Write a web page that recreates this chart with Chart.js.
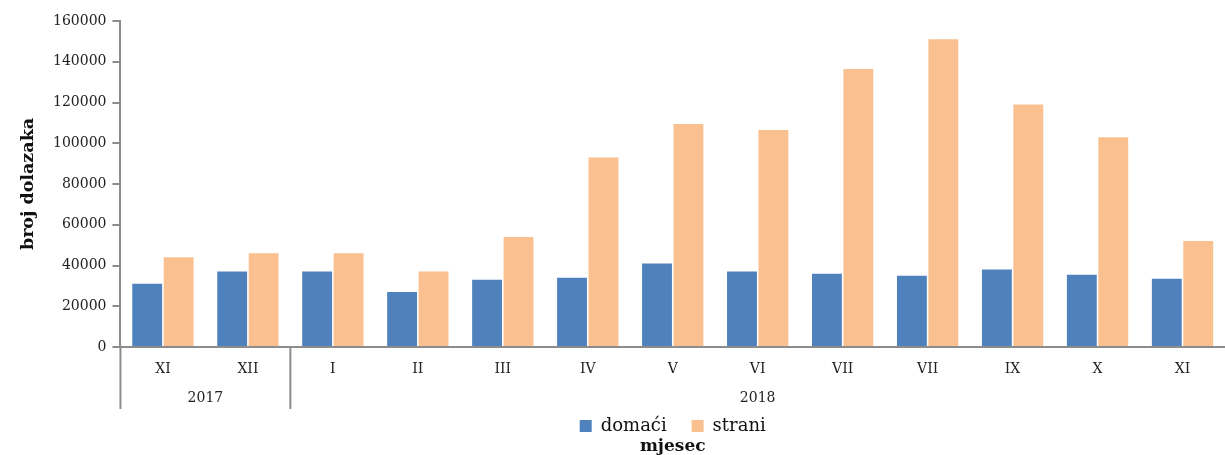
<!DOCTYPE html>
<html>
<head>
<meta charset="utf-8">
<script src="https://cdn.jsdelivr.net/npm/chart.js@4"></script>
<style>
  html, body { margin: 0; padding: 0; background: #fff; }
  #wrap { width: 1225px; height: 455px; }
</style>
</head>
<body>
<div id="wrap"><canvas id="dolasci"></canvas></div>
<script>
const months = ["XI", "XII", "I", "II", "III", "IV", "V", "VI", "VII", "VII", "IX", "X", "XI"];
const yearLabels = ["2017", "2018"];
const yearSizes = [2, 11];
const domaci = [31000, 37000, 37000, 27000, 33000, 34000, 41000, 37000, 36000, 35000, 38000, 35500, 33500];
const strani = [44000, 46000, 46000, 37000, 54000, 93000, 109500, 106500, 136500, 151000, 119000, 103000, 52000];

const serif = "'DejaVu Serif', 'Liberation Serif', serif";
const axisGray = "#8c8c8c";

// year row under the month labels, with separators
const yearGroups = {
  id: "yearGroups",
  afterDraw(chart) {
    const x = chart.scales.x;
    const ctx = chart.ctx;
    const w = x.getPixelForValue(1) - x.getPixelForValue(0);
    const top = x.top;
    const bottom = x.bottom - 6;
    ctx.save();
    ctx.strokeStyle = axisGray;
    ctx.lineWidth = 2;
    ctx.fillStyle = "#222";
    ctx.font = "14px " + serif;
    ctx.textAlign = "center";
    ctx.textBaseline = "middle";
    let start = 0;
    yearLabels.forEach((yr, i) => {
      const end = start + yearSizes[i] - 1;
      const left = x.getPixelForValue(start) - w / 2;
      ctx.beginPath();
      ctx.moveTo(left, top);
      ctx.lineTo(left, bottom);
      ctx.stroke();
      const mid = (x.getPixelForValue(start) + x.getPixelForValue(end)) / 2;
      ctx.fillText(yr, mid, bottom - 11);
      start = end + 1;
    });
    ctx.restore();
  }
};

new Chart(document.getElementById("dolasci"), {
  type: "bar",
  data: {
    labels: months,
    datasets: [
      {
        label: "domaći",
        data: domaci,
        backgroundColor: "#4F81BD",
        categoryPercentage: 0.74,
        barPercentage: 0.95,
      },
      {
        label: "strani",
        data: strani,
        backgroundColor: "#FAC090",
        categoryPercentage: 0.74,
        barPercentage: 0.95,
      },
    ],
  },
  options: {
    responsive: true,
    maintainAspectRatio: false,
    animation: false,
    layout: { padding: { top: 21, right: 0, left: 14, bottom: 0 } },
    plugins: {
      legend: {
        display: true,
        position: "bottom",
        fullSize: false,
        labels: {
          font: { family: serif, size: 18, lineHeight: 1 },
          color: "#111",
          boxWidth: 12,
          boxHeight: 12,
          padding: 2,
          generateLabels(chart) {
            const items = Chart.defaults.plugins.legend.labels.generateLabels(chart);
            items.slice(0, -1).forEach((it) => { it.text = it.text + "    "; });
            return items;
          },
        },
      },
      title: {
        display: true,
        position: "bottom",
        fullSize: false,
        text: "mjesec",
        font: { family: serif, size: 17, weight: "bold", lineHeight: 1 },
        color: "#111",
        padding: { top: -7, bottom: 0 },
      },
      tooltip: { enabled: false },
    },
    scales: {
      y: {
        min: 0,
        max: 160000,
        ticks: {
          stepSize: 20000,
          color: "#222",
          font: { family: serif, size: 14 },
          padding: 6,
          callback: (v) => String(v),
        },
        grid: {
          drawOnChartArea: false,
          drawTicks: true,
          tickLength: 8,
          color: axisGray,
          lineWidth: 2,
        },
        border: { color: axisGray, width: 2 },
        title: {
          display: true,
          text: "broj dolazaka",
          font: { family: serif, size: 17.5, weight: "bold" },
          color: "#111",
          padding: { bottom: 8 },
        },
      },
      x: {
        ticks: {
          color: "#222",
          font: { family: serif, size: 14 },
          padding: 6,
        },
        grid: { display: false },
        border: { color: axisGray, width: 2 },
        afterFit(scale) {
          scale.height = 68;
        },
      },
    },
  },
  plugins: [yearGroups],
});
</script>
</body>
</html>
